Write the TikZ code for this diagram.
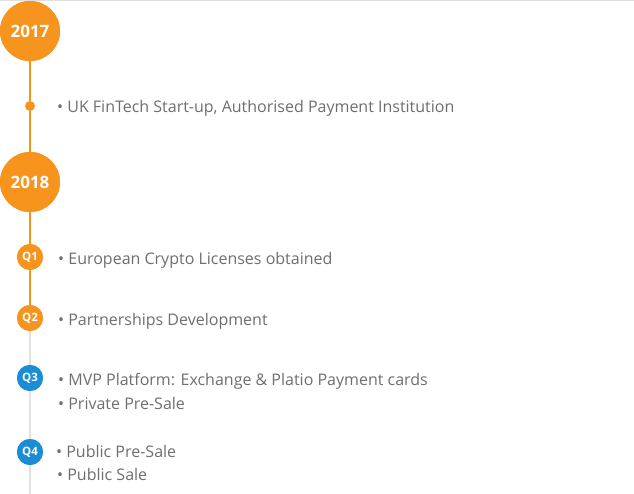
\documentclass[tikz,border=0pt]{standalone}
\usepackage{fontspec}
\setmainfont{Open Sans}
\usetikzlibrary{positioning}

\definecolor{roadorange}{HTML}{F7941D}
\definecolor{roadblue}{HTML}{1B8DD6}
\definecolor{roadgrey}{HTML}{E2E2E2}
\definecolor{roadtext}{HTML}{6E6E6E}

\tikzset{
  year/.style = {circle, fill=roadorange, minimum size=60pt, inner sep=0pt,
                 text=white, font=\fontsize{17}{20}\selectfont\bfseries},
  quarter/.style = {circle, minimum size=26pt, inner sep=0pt,
                 text=white, font=\fontsize{11.5}{13}\selectfont\bfseries},
  event/.style = {anchor=mid west, inner sep=0pt, text=roadtext,
                 font=\fontsize{16}{19}\selectfont},
}

\begin{document}
\begin{tikzpicture}[x=1pt, y=-1pt]
\useasboundingbox (0,0) rectangle (634,494);
\draw[roadgrey!80!black!40, line width=1.2pt] (0,0.6) -- (634,0.6);

% grey part of the line first
\coordinate (bottom) at (30,494);
\node[quarter, fill=roadorange] (q2) at (30,318) {};
\draw[roadgrey, line width=2.2pt] (q2.center) -- (bottom);

\node[year] (y17) at (30,31) {};
\node[circle, fill=roadorange, minimum size=10pt, inner sep=0pt] (d17) at (30,106) {};
\node[year] (y18) at (30,182) {};
\node[quarter, fill=roadorange] (q1) at (30,257) {};
\node[quarter, fill=roadblue] (q3) at (30,378) {};
\node[quarter, fill=roadblue] (q4) at (30,452) {};

\draw[roadorange, line width=2.2pt] (y17.center) -- (d17) -- (y18) -- (q1) -- (q2.center);

% redraw circles on top of the line
\foreach \n/\t in {y17/2017, y18/2018} \node[year] at (\n) {\t};
\node[quarter, fill=roadorange] at (q1) {Q1};
\node[quarter, fill=roadorange] at (q2) {Q2};
\node[quarter, fill=roadblue] at (q3) {Q3};
\node[quarter, fill=roadblue] at (q4) {Q4};

\node[event] (e17) at (57,110) {• UK FinTech Start-up, Authorised Payment Institution};
\node[event] (e1) at (58,262) {• European Crypto Licenses obtained};
\node[event] (e2) at (58,323) {• Partnerships Development};
\node[event] (e3a) at (58,383) {• MVP Platform: Exchange \& Platio Payment cards};
\node[event] (e3b) at (58,407) {• Private Pre-Sale};
\node[event] (e4a) at (56,455) {• Public Pre-Sale};
\node[event] (e4b) at (57,478) {• Public Sale};
\end{tikzpicture}
\end{document}
